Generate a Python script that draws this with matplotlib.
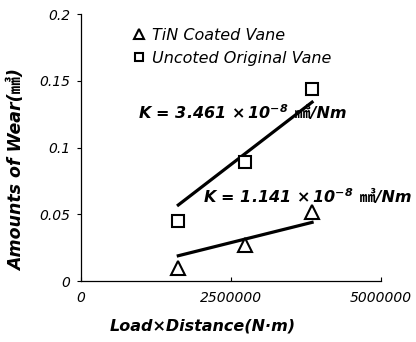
import matplotlib
matplotlib.use("Agg")
import matplotlib.pyplot as plt

plt.rcParams['font.family'] = ['DejaVu Sans', 'Noto Sans CJK KR']
plt.rcParams['mathtext.fontset'] = 'custom'
plt.rcParams['mathtext.rm'] = 'DejaVu Sans:bold:italic'
plt.rcParams['mathtext.it'] = 'DejaVu Sans:bold:italic'

# measured points
load_dist = [1620000, 2730000, 3850000]
wear_tin = [0.010, 0.027, 0.052]
wear_uncoated = [0.045, 0.089, 0.144]

# fitted lines (end points)
fit_x = [1620000, 3850000]
fit_tin = [0.019, 0.044]
fit_uncoated = [0.057, 0.134]

x_ticks = [0, 2500000, 5000000]
y_ticks = [0, 0.05, 0.1, 0.15, 0.2]
y_tick_labels = ['0', '0.05', '0.1', '0.15', '0.2']

k_labels = [r'K = 3.461 $\times\,10^{-8}$', r'K = 1.141 $\times\,10^{-8}$']
k_unit = ' ㎣/Nm'

fig = plt.figure(figsize=(4.16, 3.42), dpi=100)
ax = fig.add_axes([0.195, 0.178, 0.721, 0.781])

ax.plot(fit_x, fit_uncoated, color='black', linewidth=2.3)
ax.plot(fit_x, fit_tin, color='black', linewidth=2.3)
ax.plot(load_dist, wear_tin, linestyle='none', marker='^', markersize=10,
        markerfacecolor='white', markeredgecolor='black', markeredgewidth=1.5,
        label='TiN Coated Vane')
ax.plot(load_dist, wear_uncoated, linestyle='none', marker='s', markersize=9,
        markerfacecolor='white', markeredgecolor='black', markeredgewidth=1.5,
        label='Uncoted Original Vane')

ax.set_xlim(0, 5000000)
ax.set_ylim(0, 0.2)
ax.set_xticks(x_ticks)
ax.set_xticklabels([str(v) for v in x_ticks], fontsize=10, style='italic')
ax.set_yticks(y_ticks)
ax.set_yticklabels(y_tick_labels, fontsize=10, style='italic')
ax.tick_params(axis='y', direction='out', length=3, width=0.8, pad=5)
ax.tick_params(axis='x', direction='in', length=3, width=0.8, pad=7)

ax.spines['top'].set_visible(False)
ax.spines['right'].set_visible(False)
ax.spines['left'].set_linewidth(0.9)
ax.spines['bottom'].set_linewidth(0.9)

fig.text(203 / 416, 1 - 326 / 342, 'Load×Distance(N·m)', fontsize=11.5,
         fontweight='bold', style='italic', ha='center', va='center')
fig.text(17 / 416, 1 - 170 / 342, 'Amounts of Wear(㎣)', fontsize=12.5,
         fontweight='bold', style='italic', ha='center', va='center', rotation=90)

ax.legend(loc='upper left', bbox_to_anchor=(0.13, 0.99), frameon=False,
          prop={'size': 11.5, 'style': 'italic'}, handletextpad=0.3,
          borderpad=0.2, labelspacing=0.5, handlelength=1.0, markerscale=0.7)

for label, (tx, ty) in zip(k_labels, [(0.19, 0.63), (0.407, 0.315)]):
    t = ax.text(tx, ty, label, transform=ax.transAxes, fontsize=11.5,
                fontweight='bold', style='italic', va='center')
    ax.annotate(k_unit, xy=(1, 0.08), xycoords=t, va='bottom', ha='left',
                fontsize=11.5, fontweight='bold', style='italic')

fig.savefig('out.png', dpi=100)
